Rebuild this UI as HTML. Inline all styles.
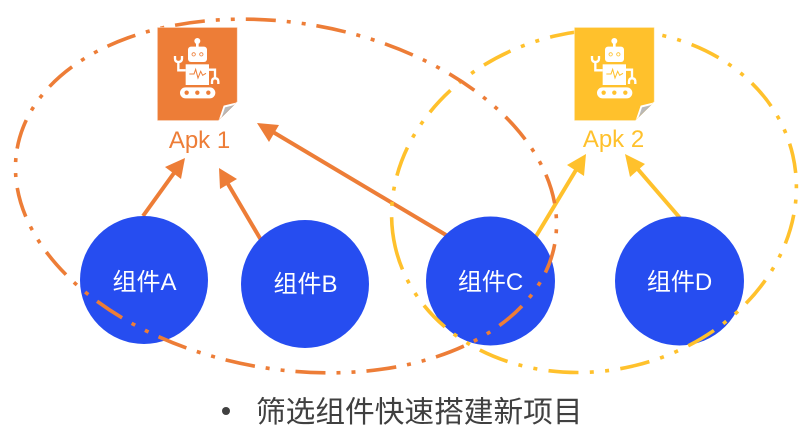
<!DOCTYPE html>
<html><head><meta charset="utf-8">
<style>
html,body{margin:0;padding:0;background:#fff;width:812px;height:438px;overflow:hidden}
svg{display:block}
text{font-family:"Liberation Sans","Noto Sans CJK SC",sans-serif}
</style></head>
<body>
<svg width="812" height="438" viewBox="0 0 812 438" xmlns="http://www.w3.org/2000/svg">
<defs>
<g id="icon" transform="scale(0.33333)">
  <polygon points="472,82 712,82 712,305 655,362 472,362" fill="currentColor" stroke="#fff" stroke-opacity="0.45" stroke-width="3"/>
  <polygon points="657,358 671,317 708,308" fill="#fff"/>
  <polygon points="665,352 675,322 703,315" fill="#000" fill-opacity="0.27"/>
  <circle cx="592" cy="123" r="9" fill="#fff"/>
  <rect x="588" y="125" width="8" height="18" fill="#fff"/>
  <rect x="564" y="140" width="57" height="46" rx="9" fill="#fff"/>
  <circle cx="581" cy="163" r="5" fill="none" stroke="currentColor" stroke-width="2.5"/>
  <circle cx="604" cy="163" r="5" fill="none" stroke="currentColor" stroke-width="2.5"/>
  <rect x="557" y="193" width="70" height="62" fill="#fff"/>
  <path d="M557 211H535V184" fill="none" stroke="#fff" stroke-width="7"/>
  <path d="M525 168V176Q525 186 535 186Q546 186 546 176V168" fill="none" stroke="#fff" stroke-width="7"/>
  <path d="M627 209H645V236" fill="none" stroke="#fff" stroke-width="7"/>
  <path d="M636 252V245Q636 235 645 235Q655 235 655 245V252" fill="none" stroke="#fff" stroke-width="7"/>
  <polyline points="568,222 582,222 587,208 594,234 602,214 608,226 618,220" fill="none" stroke="currentColor" stroke-width="3"/>
  <rect x="540" y="262" width="106" height="33" rx="16.5" fill="#fff"/>
  <circle cx="560" cy="278" r="6.5" fill="currentColor"/>
  <circle cx="592" cy="278" r="6.5" fill="currentColor"/>
  <circle cx="625" cy="278" r="6.5" fill="currentColor"/>
</g>
</defs>

<!-- arrows -->
<g stroke="#ED7D37" stroke-width="4" fill="#ED7D37">
  <line x1="143" y1="216" x2="174" y2="173"/>
  <polygon points="185,158 181,179 165,167" stroke="none"/>
  <line x1="261" y1="240" x2="228" y2="184"/>
  <polygon points="219,168 237,179 220,189" stroke="none"/>
  <line x1="446" y1="235" x2="273" y2="132"/>
  <polygon points="257,123 279,125 269,142" stroke="none"/>
</g>
<g stroke="#FFC12C" stroke-width="4" fill="#FFC12C">
  <line x1="535" y1="238" x2="576" y2="170"/>
  <polygon points="586,154 584,176 567,165" stroke="none"/>
  <line x1="680" y1="218" x2="636" y2="167"/>
  <polygon points="625,154 645,164 630,177" stroke="none"/>
</g>

<!-- circles -->
<circle cx="144" cy="280" r="64" fill="#264DF0"/>
<circle cx="305" cy="284" r="64" fill="#264DF0"/>
<circle cx="490.5" cy="281" r="64.5" fill="#264DF0"/>
<circle cx="679.5" cy="281" r="64.5" fill="#264DF0"/>

<!-- dashed ellipses: rotated by 180deg so each path starts at its left end and runs clockwise -->
<ellipse cx="594" cy="201" rx="204" ry="169.6" transform="rotate(167 594 201)" fill="none" stroke="#FFC12C" stroke-width="3.6" stroke-dasharray="30 11.33 4 11.33 4 11.34"/>
<ellipse cx="286" cy="196" rx="273" ry="173" transform="rotate(190 286 196)" fill="none" stroke="#ED7D37" stroke-width="3.6" stroke-dasharray="30 11 4 11 4 11"/>

<!-- icons -->
<use href="#icon" style="color:#ED7D37"/>
<use href="#icon" transform="translate(417,0)" style="color:#FFC12C"/>

<!-- labels -->
<text x="199.5" y="148" font-size="24" fill="#ED7D37" text-anchor="middle">Apk 1</text>
<text x="613.5" y="147" font-size="24" fill="#FFC12C" text-anchor="middle">Apk 2</text>
<text x="144.5" y="290" font-size="24" fill="#fff" text-anchor="middle">组件A</text>
<text x="305.5" y="292" font-size="24" fill="#fff" text-anchor="middle">组件B</text>
<text x="490.5" y="290" font-size="24" fill="#fff" text-anchor="middle">组件C</text>
<text x="679.5" y="290" font-size="24" fill="#fff" text-anchor="middle">组件D</text>

<circle cx="226" cy="411" r="4" fill="#404040"/>
<text x="256" y="422" font-size="29.7" fill="#404040">筛选组件快速搭建新项目</text>
</svg>
</body></html>
